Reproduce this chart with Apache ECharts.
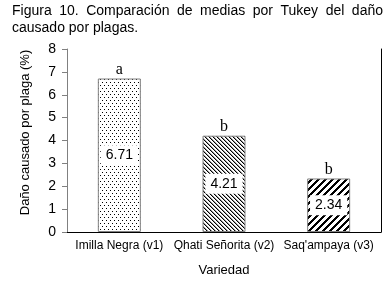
<!DOCTYPE html>
<html><head><meta charset="utf-8">
<script src="https://cdn.jsdelivr.net/npm/echarts@6/dist/echarts.min.js"></script>
<style>html,body{margin:0;padding:0;background:#fff}#c{width:390px;height:290px}</style>
</head><body><div id="c"></div>
<script>
var categories = ['Imilla Negra (v1)', 'Qhati Señorita (v2)', "Saq'ampaya (v3)"];
var values = [6.71, 4.21, 2.34];
var letters = ['a', 'b', 'b'];
var yTicks = [0, 1, 2, 3, 4, 5, 6, 7, 8];
var titleLine1 = 'Figura 10. Comparación de medias por Tukey del daño';
var titleLine2 = 'causado por plagas.';
var yName = 'Daño causado por plaga (%)';
var xName = 'Variedad';

var SANS = '"Liberation Sans", Arial, sans-serif';
var SERIF = '"Liberation Serif", "Times New Roman", serif';

function makePattern(w, h, draw) {
  var c = document.createElement('canvas');
  c.width = w; c.height = h;
  var ctx = c.getContext('2d');
  ctx.fillStyle = '#fff'; ctx.fillRect(0, 0, w, h);
  draw(ctx);
  return { image: c, repeat: 'repeat' };
}
var patDots = makePattern(4, 6, function (ctx) {
  ctx.fillStyle = '#000';
  ctx.fillRect(0, 1, 1, 1);
  ctx.fillRect(2, 4, 1, 1);
});
var patBack = makePattern(4, 4, function (ctx) {
  for (var i = 0; i < 4; i++) {
    ctx.fillStyle = '#000'; ctx.fillRect(i, i, 1, 1);
    ctx.fillStyle = '#999'; ctx.fillRect((i + 1) % 4, i, 1, 1);
  }
});
var patFwd = makePattern(7, 7, function (ctx) {
  ctx.fillStyle = '#000';
  for (var y = 0; y < 7; y++) {
    for (var k = 0; k < 3; k++) {
      var x = (6 - y + k + 7) % 7;
      ctx.fillRect(x, y, 1, 1);
    }
  }
});
var patterns = [patDots, patBack, patFwd];

// justified title line
var mctx = document.createElement('canvas').getContext('2d');
mctx.font = '14px ' + SANS;
var words = titleLine1.split(' ');
var left = 12, right = 383;
var totalW = 0, ws = [];
words.forEach(function (w) { var m = mctx.measureText(w).width; ws.push(m); totalW += m; });
var gap = (right - left - totalW) / (words.length - 1);
var graphics = [];
var xpos = left;
words.forEach(function (w, i) {
  graphics.push({ type: 'text', left: xpos, top: 4, style: { text: w, font: '14px ' + SANS, fill: '#000' } });
  xpos += ws[i] + gap;
});
graphics.push({ type: 'text', left: left, top: 21, style: { text: titleLine2, font: '14px ' + SANS, fill: '#000' } });

var chart = echarts.init(document.getElementById('c'));
chart.setOption({
  animation: false,
  backgroundColor: '#fff',
  graphic: graphics,
  grid: { left: 67, right: 9, top: 49, bottom: 58, containLabel: false },
  xAxis: [{
    type: 'category', data: categories,
    axisLine: { lineStyle: { color: '#808080', width: 1 } },
    axisTick: { show: false },
    axisLabel: { color: '#000', fontSize: 12, fontFamily: SANS, margin: 8, interval: 0 },
    name: xName, nameLocation: 'middle', nameGap: 32,
    nameTextStyle: { color: '#000', fontSize: 13, fontFamily: SANS }
  }, {
    type: 'category', data: categories, position: 'top',
    axisLine: { lineStyle: { color: '#000', width: 1 } },
    axisTick: { show: false }, axisLabel: { show: false }
  }],
  yAxis: [{
    type: 'value', min: 0, max: 8, interval: 1,
    axisLine: { show: true, lineStyle: { color: '#808080', width: 1 } },
    axisTick: { show: true, length: 5, lineStyle: { color: '#808080' } },
    splitLine: { show: false },
    axisLabel: { color: '#000', fontSize: 14, fontFamily: SANS, margin: 11,
      formatter: function (v) { return yTicks.indexOf(v) >= 0 ? String(v) : ''; } },
    name: yName, nameLocation: 'middle', nameGap: 35, nameRotate: 90,
    nameTextStyle: { color: '#000', fontSize: 13, fontFamily: SANS, padding: [0, 0, 0, 16] }
  }, {
    type: 'value', min: 0, max: 8, interval: 1, position: 'right',
    axisLine: { show: true, lineStyle: { color: '#000', width: 1 } },
    axisTick: { show: false }, axisLabel: { show: false }, splitLine: { show: false }
  }],
  series: [{
    type: 'bar', barWidth: 43,
    data: values.map(function (v, i) {
      return { value: v, itemStyle: { color: patterns[i], borderColor: '#808080', borderWidth: 1 } };
    }),
    label: {
      show: true, position: 'inside', color: '#000', fontSize: 14, fontFamily: SANS,
      backgroundColor: '#fff', padding: [3, 5],
      formatter: function (p) { return values[p.dataIndex].toFixed(2); }
    }
  }, {
    type: 'bar', barWidth: 43, barGap: '-100%', silent: true,
    data: values,
    itemStyle: { color: 'rgba(0,0,0,0)' },
    label: {
      show: true, position: 'top', distance: 1, color: '#000', fontSize: 16, fontFamily: SERIF,
      formatter: function (p) { return letters[p.dataIndex]; }
    }
  }]
});
</script></body></html>
